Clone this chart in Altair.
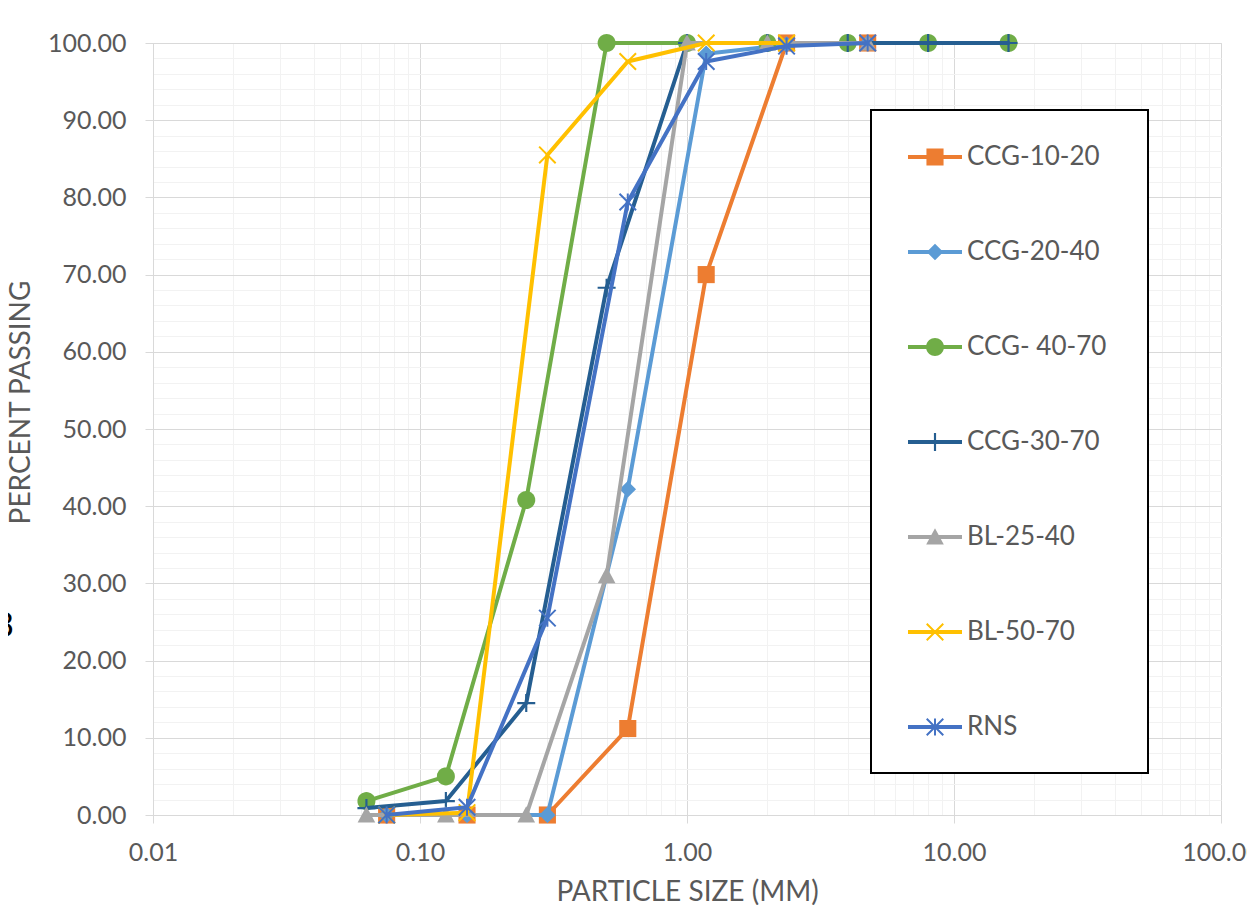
import math
import altair as alt
import pandas as pd

# ---------------- data ----------------
series_names = ["CCG-10-20", "CCG-20-40", "CCG- 40-70", "CCG-30-70", "BL-25-40", "BL-50-70", "RNS"]
series_colors = ["#ED7D31", "#5B9BD5", "#70AD47", "#255E91", "#A5A5A5", "#FFC000", "#4472C4"]

ccg_10_20_size = [0.075, 0.15, 0.3, 0.6, 1.18, 2.36, 4.75]
ccg_10_20_pass = [0.0, 0.0, 0.0, 11.2, 70.0, 100.0, 100.0]

ccg_20_40_size = [0.075, 0.15, 0.3, 0.6, 1.18, 2.36, 4.75]
ccg_20_40_pass = [0.0, 0.0, 0.0, 42.2, 98.6, 99.8, 100.0]

ccg_40_70_size = [0.063, 0.125, 0.25, 0.5, 1.0, 2.0, 4.0, 8.0, 16.0]
ccg_40_70_pass = [1.8, 5.0, 40.8, 100.0, 100.0, 100.0, 100.0, 100.0, 100.0]

ccg_30_70_size = [0.063, 0.125, 0.25, 0.5, 1.0, 2.0, 4.0, 8.0, 16.0]
ccg_30_70_pass = [0.9, 1.8, 14.5, 68.3, 100.0, 100.0, 100.0, 100.0, 100.0]

bl_25_40_size = [0.063, 0.125, 0.25, 0.5, 1.0, 2.0, 4.75]
bl_25_40_pass = [0.0, 0.0, 0.0, 31.0, 100.0, 100.0, 100.0]

bl_50_70_size = [0.075, 0.15, 0.3, 0.6, 1.18, 2.36]
bl_50_70_pass = [0.0, 0.3, 85.5, 97.6, 100.0, 100.0]

rns_size = [0.075, 0.15, 0.3, 0.6, 1.18, 2.36, 4.75]
rns_pass = [0.0, 1.0, 25.5, 79.4, 97.6, 99.6, 100.0]

series_sizes = [ccg_10_20_size, ccg_20_40_size, ccg_40_70_size, ccg_30_70_size,
                bl_25_40_size, bl_50_70_size, rns_size]
series_pass = [ccg_10_20_pass, ccg_20_40_pass, ccg_40_70_pass, ccg_30_70_pass,
               bl_25_40_pass, bl_50_70_pass, rns_pass]

x_major = [0.01, 0.1, 1.0, 10.0, 100.0]
x_ticks = [m * 10.0 ** e for e in range(-2, 2) for m in range(1, 10)] + [100.0]
y_ticks = list(range(0, 101, 2))

# ---------------- marker shapes (custom symbol paths) ----------------
def fmt(pts):
    return "M" + "L".join(f"{x:.4f},{y:.4f}" for x, y in pts) + "Z"

def bar(angle, a, t, k):
    c, s = math.cos(math.radians(angle)), math.sin(math.radians(angle))
    pts = [(-a, -t), (a, -t), (a, t), (-a, t)]
    return fmt([((x * c - y * s) * k, (x * s + y * c) * k) for x, y in pts])

def square(k):
    a = 0.95 * k
    return fmt([(-a, -a), (a, -a), (a, a), (-a, a)])

def diamond(k):
    a = 0.92 * k
    return fmt([(0, -a), (a, 0), (0, a), (-a, 0)])

def circle(k):
    a = 1.0 * k
    return fmt([(a * math.cos(2 * math.pi * i / 36), a * math.sin(2 * math.pi * i / 36)) for i in range(36)])

def triangle(k):
    a = 0.98 * k
    return fmt([(0, -a), (a, 0.85 * a), (-a, 0.85 * a)])

def plus(k):
    return bar(0, 1.0, 0.12, k) + bar(90, 1.0, 0.12, k)

def xmark(k):
    return bar(45, 1.3, 0.11, k) + bar(135, 1.3, 0.11, k)

def asterisk(k):
    return bar(45, 1.3, 0.11, k) + bar(135, 1.3, 0.11, k) + bar(90, 0.95, 0.11, k)

shape_funcs = [square, diamond, circle, plus, triangle, xmark, asterisk]
point_paths = [f(1.0) for f in shape_funcs]
legend_line = fmt([(-1, -0.075), (1, -0.075), (1, 0.075), (-1, 0.075)])
legend_paths = [legend_line + f(1.0 / 3.0) for f in shape_funcs]

# ---------------- styling ----------------
FONT = "Lato"
TXT = "#595959"
MAJOR = "#D9D9D9"
MINOR = "#F2F2F2"

is_major_x = "abs(log(datum.value)/LN10 - round(log(datum.value)/LN10)) < 1e-6"
is_major_y = "datum.value % 10 == 0"

x_scale = alt.Scale(type="log", domain=[0.01, 100], nice=False)
y_scale = alt.Scale(domain=[0, 100], nice=False, zero=True)

x_axis = alt.Axis(
    values=x_ticks,
    labelExpr=f"{is_major_x} ? format(datum.value, '.2f') : ''",
    labelOverlap=False, labelFlush=False, labelBound=False,
    grid=True,
    gridColor={"condition": {"test": is_major_x, "value": MAJOR}, "value": MINOR},
    gridWidth=1,
    tickColor={"condition": {"test": is_major_x, "value": MAJOR}, "value": "transparent"},
    tickSize=8, tickWidth=1,
    domainColor=MAJOR, domainWidth=1,
    labelFont=FONT, labelFontSize=25, labelColor=TXT,
    labelBaseline="alphabetic", labelPadding=37,
    title="PARTICLE SIZE (MM)", titleFont=FONT, titleFontSize=28, titleColor=TXT,
    titleFontWeight="normal", titleBaseline="alphabetic", titleY=85,
)

y_axis = alt.Axis(
    values=y_ticks,
    labelExpr=f"{is_major_y} ? format(datum.value, '.2f') : ''",
    labelOverlap=False, labelFlush=False, labelBound=False,
    grid=True,
    gridColor={"condition": {"test": is_major_y, "value": MAJOR}, "value": MINOR},
    gridWidth=1,
    tickColor={"condition": {"test": is_major_y, "value": MAJOR}, "value": "transparent"},
    tickSize=8, tickWidth=1,
    domainColor=MAJOR, domainWidth=1,
    labelFont=FONT, labelFontSize=25, labelColor=TXT, labelPadding=19,
    title="PERCENT PASSING", titleFont=FONT, titleFontSize=28, titleColor=TXT,
    titleFontWeight="normal", titleAngle=270, titleAlign="center",
    titleBaseline="alphabetic", titleX=-124, titleY=359,
)

layers = []
for name, color, sizes, passes, path in zip(series_names, series_colors, series_sizes,
                                             series_pass, point_paths):
    df = pd.DataFrame({"size": sizes, "pass": passes, "series": name})
    base = alt.Chart(df).encode(
        x=alt.X("size:Q", scale=x_scale, axis=x_axis),
        y=alt.Y("pass:Q", scale=y_scale, axis=y_axis),
    )
    layers.append(base.mark_line(color=color, strokeWidth=4, strokeCap="round", strokeJoin="round"))
    layers.append(base.mark_point(filled=True, fill=color, opacity=1, strokeWidth=0,
                                  shape=path, size=324))

# legend frame
frame = alt.Chart(pd.DataFrame({"k": [0]})).mark_rect(
    fill="white", stroke="#000000", strokeWidth=2
).encode(x=alt.value(718), x2=alt.value(995), y=alt.value(67), y2=alt.value(730))
layers.append(frame)

legend_props = dict(
    orient="none", legendX=755, legendY=87, padding=0, title=None,
    labelFont=FONT, labelFontSize=26, labelColor=TXT, labelOffset=5, labelLimit=0,
    rowPadding=55, symbolSize=2916, symbolStrokeWidth=0, symbolOpacity=1,
)
legend_layer = alt.Chart(pd.DataFrame({"series": series_names})).transform_filter("false").mark_point(
    filled=True, opacity=1, strokeWidth=0, size=2916
).encode(
    shape=alt.Shape("series:N", scale=alt.Scale(domain=series_names, range=legend_paths),
                    legend=alt.Legend(**legend_props)),
    color=alt.Color("series:N", scale=alt.Scale(domain=series_names, range=series_colors),
                    legend=alt.Legend(**legend_props)),
)
layers.append(legend_layer)

stray = alt.Chart(pd.DataFrame({"t": ["3"]})).mark_text(
    font=FONT, fontSize=35, color="#000000", align="right", baseline="alphabetic"
).encode(text="t:N", x=alt.value(-139), y=alt.value(594))
layers.append(stray)

chart = alt.layer(*layers).properties(
    width=1068, height=772,
    autosize=alt.AutoSizeParams(type="none"),
    padding={"left": 145, "top": 35, "right": 26, "bottom": 90},
).configure_view(strokeWidth=0).configure(background="white")

chart.save("out.html", embed_options={"renderer": "svg", "actions": False})
